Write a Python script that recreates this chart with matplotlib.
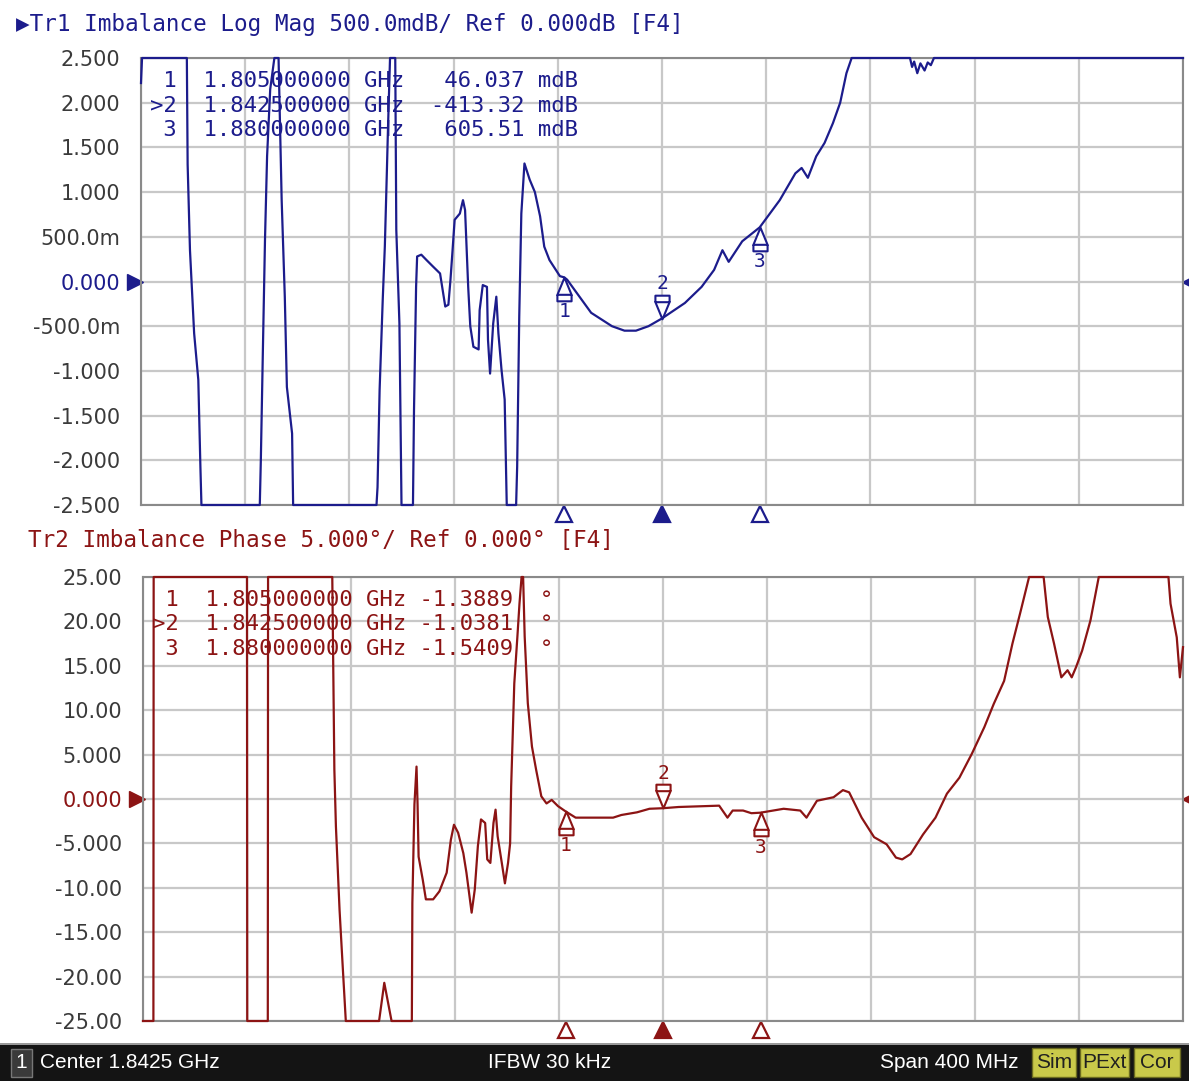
import matplotlib
matplotlib.use('Agg')
import matplotlib.pyplot as plt
import numpy as np
from matplotlib.transforms import offset_copy, blended_transform_factory
from matplotlib.patches import Rectangle
from matplotlib.path import Path

# sweep: center 1842.5 MHz, span 400 MHz
f_start, f_stop = 1642.5, 2042.5

# Tr1 imbalance log mag (dB) (clipped at +-2.5 like the VNA)
mag_freq = [1642.5, 1642.9, 1660.1, 1660.4, 1661.3, 1662.9, 1664.5, 1665.3, 1665.7, 1688.1,
            1688.5, 1689.3, 1690.1, 1690.9, 1692.1, 1693.7, 1695.3, 1696.5, 1697.7, 1698.5,
            1700.5, 1700.9, 1732.9, 1733.3, 1734.1, 1735.3, 1736.1, 1736.9, 1737.3, 1738.1,
            1740.1, 1740.5, 1741.7, 1742.5, 1746.9, 1747.3, 1748.1, 1748.5, 1750.1, 1752.1,
            1754.5, 1757.3, 1759.3, 1760.5, 1761.3, 1762.1, 1762.9, 1764.9, 1766.1, 1766.9,
            1768.1, 1768.9, 1770.1, 1772.1, 1772.5, 1773.7, 1775.3, 1775.7, 1776.5, 1777.7,
            1778.9, 1779.7, 1780.9, 1782.1, 1782.9, 1786.5, 1786.9, 1787.7, 1788.5, 1789.7,
            1791.7, 1793.7, 1795.7, 1797.3, 1799.3, 1803.3, 1805.0, 1806.1, 1815.3, 1823.3,
            1828.1, 1832.5, 1837.3, 1842.5, 1851.3, 1857.7, 1862.5, 1865.7, 1868.1, 1873.3,
            1880.0, 1887.7, 1893.7, 1896.1, 1898.5, 1901.7, 1904.9, 1908.1, 1910.9, 1913.3,
            1915.3, 1937.7, 1938.5, 1939.3, 1940.5, 1941.7, 1943.3, 1944.5, 1945.7, 1946.9,
            2042.5]
mag_db = [2.22, 2.5, 2.5, 1.31, 0.35, -0.58, -1.1, -2.07, -2.5, -2.5,
          -2.0, -0.75, 0.47, 1.4, 2.15, 2.5, 2.5, 0.91, -0.17, -1.18,
          -1.70, -2.5, -2.5, -2.3, -1.21, -0.2, 0.39, 1.25, 1.7, 2.5,
          2.5, 0.58, -0.47, -2.5, -2.5, -1.44, -0.06, 0.28, 0.30, 0.24,
          0.17, 0.09, -0.28, -0.26, 0.02, 0.35, 0.69, 0.76, 0.91, 0.80,
          -0.06, -0.50, -0.73, -0.76, -0.32, -0.04, -0.06, -0.65, -1.03, -0.47,
          -0.17, -0.58, -0.99, -1.32, -2.5, -2.5, -2.07, -0.39, 0.76, 1.32,
          1.14, 1.0, 0.73, 0.39, 0.24, 0.06, 0.046, 0.02, -0.35, -0.50,
          -0.55, -0.55, -0.50, -0.413, -0.24, -0.06, 0.13, 0.35, 0.22, 0.45,
          0.6055, 0.91, 1.21, 1.27, 1.16, 1.40, 1.55, 1.77, 2.0, 2.33,
          2.5, 2.5, 2.40, 2.46, 2.33, 2.44, 2.36, 2.45, 2.42, 2.5,
          2.5]

# Tr2 imbalance phase (deg), clipped at +-25
ph_freq = [1642.5, 1646.5, 1646.6, 1682.5, 1682.6, 1690.5, 1690.6, 1715.3, 1716.1, 1716.7,
           1718.1, 1719.3, 1720.5, 1733.3, 1735.3, 1738.1, 1745.9, 1746.1, 1746.9, 1747.7,
           1748.1, 1748.5, 1750.1, 1751.3, 1754.1, 1756.5, 1759.3, 1760.9, 1762.1, 1763.7,
           1765.7, 1766.9, 1768.9, 1770.1, 1771.3, 1772.5, 1774.1, 1774.9, 1776.1, 1777.3,
           1778.1, 1778.9, 1780.5, 1781.7, 1782.9, 1783.7, 1784.1, 1785.3, 1786.5, 1787.3,
           1788.1, 1788.7, 1789.3, 1790.5, 1792.1, 1793.7, 1795.7, 1797.7, 1799.7, 1802.1,
           1805.0, 1808.9, 1823.3, 1826.5, 1832.5, 1837.3, 1842.5, 1848.5, 1864.1, 1867.3,
           1869.3, 1873.3, 1876.5, 1880.0, 1888.9, 1895.3, 1897.7, 1901.7, 1908.1, 1911.7,
           1914.1, 1918.9, 1923.7, 1928.5, 1932.1, 1934.5, 1937.7, 1942.5, 1947.3, 1951.7,
           1956.5, 1961.3, 1966.1, 1969.7, 1973.7, 1976.9, 1980.1, 1983.3, 1988.9, 1990.5,
           1992.9, 1995.7, 1998.1, 1999.7, 2001.3, 2003.7, 2006.9, 2010.1, 2036.9, 2037.7,
           2040.1, 2041.3, 2042.5]
ph_deg = [-25, -25, 25, 25, -25, -25, 25, 25, 3.3, -3.1,
          -12.5, -18.8, -25, -25, -20.7, -25, -25, -11.7, -0.6, 3.65,
          -0.6, -6.5, -9.1, -11.3, -11.3, -10.4, -8.3, -4.6, -2.9, -3.8,
          -6.1, -8.3, -12.8, -10.2, -5.3, -2.3, -2.7, -6.8, -7.2, -2.7,
          -1.2, -4.2, -7.2, -9.5, -7.2, -5.0, 1.4, 13.0, 18.3, 22.0,
          25, 25, 18.3, 10.8, 5.9, 3.3, 0.3, -0.5, -0.1, -0.8,
          -1.389, -2.1, -2.1, -1.8, -1.5, -1.1, -1.038, -0.9, -0.75, -2.1,
          -1.3, -1.3, -1.6, -1.541, -1.1, -1.3, -2.1, -0.2, 0.2, 1.0,
          0.75, -2.1, -4.3, -5.1, -6.6, -6.8, -6.2, -4.0, -2.1, 0.6,
          2.4, 5.1, 8.1, 10.7, 13.3, 17.5, 21.2, 25, 25, 20.5,
          17.5, 13.7, 14.5, 13.7, 14.8, 16.7, 20.1, 25, 25, 22,
          18.2, 13.7, 17.1]

marker_freq = [1805.0, 1842.5, 1880.0]
marker_mag = [0.046037, -0.41332, 0.60551]
marker_phase = [-1.3889, -1.0381, -1.5409]
active_marker = 1

mag_ticks = [2.5, 2.0, 1.5, 1.0, 0.5, 0.0, -0.5, -1.0, -1.5, -2.0, -2.5]
mag_tick_labels = ['2.500', '2.000', '1.500', '1.000', '500.0m', '0.000', '-500.0m',
                   '-1.000', '-1.500', '-2.000', '-2.500']
ph_ticks = [25, 20, 15, 10, 5, 0, -5, -10, -15, -20, -25]
ph_tick_labels = ['25.00', '20.00', '15.00', '10.00', '5.000', '0.000', '-5.000',
                  '-10.00', '-15.00', '-20.00', '-25.00']

mag_table = [' 1  1.805000000 GHz   46.037 mdB',
             '>2  1.842500000 GHz  -413.32 mdB',
             ' 3  1.880000000 GHz   605.51 mdB']
ph_table = [' 1  1.805000000 GHz -1.3889  °',
            '>2  1.842500000 GHz -1.0381  °',
            ' 3  1.880000000 GHz -1.5409  °']

blue = '#1c1c8c'
red = '#8c1414'
mono = ['DejaVu Sans Mono', 'DejaVu Sans']

# tall marker glyph: triangle sitting on a small box, apex at (0, 1)
up_verts = [(0, 1), (-0.6, -0.45), (0.6, -0.45), (0, 1),
            (-0.6, -0.45), (-0.6, -1), (0.6, -1), (0.6, -0.45)]
up_codes = [Path.MOVETO, Path.LINETO, Path.LINETO, Path.CLOSEPOLY,
            Path.MOVETO, Path.LINETO, Path.LINETO, Path.LINETO]
up_mark = Path(up_verts, up_codes)
down_mark = Path([(x, -y) for x, y in up_verts], up_codes)
mk_size = 17  # points; glyph is mk_size tall
mk_half = mk_size / 2 * 100 / 72  # half height in pixels

W, H = 1189, 1081
fig = plt.figure(figsize=(W / 100, H / 100), dpi=100)
fig.patch.set_facecolor('white')


def px_axes(x0, y0, x1, y1):
    return fig.add_axes([x0 / W, 1 - y1 / H, (x1 - x0) / W, (y1 - y0) / H])


def draw_panel(ax, freq, vals, color, ticks, labels, mk_vals):
    ax.plot(freq, vals, color=color, lw=1.6, clip_on=False, zorder=3)
    ax.set_xlim(f_start, f_stop)
    ax.set_ylim(ticks[-1], ticks[0])
    ax.set_xticks(np.linspace(f_start, f_stop, 11))
    ax.set_xticklabels([])
    ax.set_yticks(ticks)
    ax.set_yticklabels(labels, fontsize=15, color='#3a3a3a')
    for t, v in zip(ax.get_yticklabels(), ticks):
        if v == 0:
            t.set_color(color)
    ax.tick_params(length=0, pad=15)
    ax.grid(True, color='#c8c8c8', lw=1.6)
    ax.set_axisbelow(True)
    for s in ax.spines.values():
        s.set_color('#8a8a8a')
        s.set_linewidth(1.5)

    # reference level arrows
    tr = blended_transform_factory(ax.transAxes, ax.transData)
    ax.plot([-0.006], [0], marker='>', ms=11, color=color, transform=tr, clip_on=False)
    ax.plot([1.0045], [0], marker='<', ms=9, color=color, transform=tr, clip_on=False)

    # marker position triangles under the grid
    trb = blended_transform_factory(ax.transData, ax.transAxes)
    for i, f in enumerate(marker_freq):
        fc = color if i == active_marker else 'white'
        ax.plot([f], [-0.021], marker='^', ms=11, mfc=fc, mec=color, mew=1.6,
                transform=trb, clip_on=False)

    # markers on the trace
    for i, (f, v) in enumerate(zip(marker_freq, mk_vals)):
        if i == active_marker:
            tr_m = offset_copy(ax.transData, fig=fig, y=mk_half, units='dots')
            ax.plot([f], [v], marker=down_mark, ms=mk_size, mfc='white', mec=color,
                    mew=1.5, transform=tr_m, zorder=4)
            dy = 2 * mk_half + 11
        else:
            tr_m = offset_copy(ax.transData, fig=fig, y=-mk_half, units='dots')
            ax.plot([f], [v], marker=up_mark, ms=mk_size, mfc='white', mec=color,
                    mew=1.5, transform=tr_m, zorder=4)
            dy = -(2 * mk_half + 11)
        ax.annotate(str(i + 1), xy=(f, v), xytext=(0, dy), textcoords='offset pixels',
                    ha='center', va='center', fontsize=14, color=color, family=mono)


ax1 = px_axes(141, 58, 1183, 505)
draw_panel(ax1, mag_freq, mag_db, blue, mag_ticks, mag_tick_labels, marker_mag)
ax2 = px_axes(143, 577, 1183, 1021)
draw_panel(ax2, ph_freq, ph_deg, red, ph_ticks, ph_tick_labels, marker_phase)

# trace titles
fig.text(16 / W, 1 - 24 / H, '▶Tr1 Imbalance Log Mag 500.0mdB/ Ref 0.000dB [F4]',
         color=blue, fontsize=16.3, family=mono, va='center', ha='left')
fig.text(28 / W, 1 - 541 / H, 'Tr2 Imbalance Phase 5.000°/ Ref 0.000° [F4]',
         color=red, fontsize=16.3, family=mono, va='center', ha='left')

# marker tables
for k, row in enumerate(mag_table):
    fig.text(150 / W, 1 - (81 + 24.5 * k) / H, row, color=blue, fontsize=16,
             family=mono, va='center', ha='left')
for k, row in enumerate(ph_table):
    fig.text(152 / W, 1 - (600 + 24.5 * k) / H, row, color=red, fontsize=16,
             family=mono, va='center', ha='left')

# status bar
bar_font = ['Liberation Sans', 'DejaVu Sans']
fig.patches.append(Rectangle((0, 0), 1, 36 / H, transform=fig.transFigure,
                             facecolor='#141414', edgecolor='none'))
fig.patches.append(Rectangle((0, 36 / H), 1, 2 / H, transform=fig.transFigure,
                             facecolor='#9a9a9a', edgecolor='none'))
fig.patches.append(Rectangle((11 / W, 4 / H), 21 / W, 28 / H, transform=fig.transFigure,
                             facecolor='#3a3a3a', edgecolor='#777777', lw=1))
fig.text(21 / W, 18 / H, '1', color='white', fontsize=15, family=bar_font,
         ha='center', va='center')
fig.text(40 / W, 18 / H, 'Center 1.8425 GHz', color='white', fontsize=15,
         family=bar_font, ha='left', va='center')
fig.text(550 / W, 18 / H, 'IFBW 30 kHz', color='white', fontsize=15,
         family=bar_font, ha='center', va='center')
fig.text(1018 / W, 18 / H, 'Span 400 MHz', color='white', fontsize=15,
         family=bar_font, ha='right', va='center')
for label, x0, x1 in [('Sim', 1032, 1076), ('PExt', 1080, 1129), ('Cor', 1134, 1180)]:
    fig.patches.append(Rectangle((x0 / W, 4 / H), (x1 - x0) / W, 29 / H,
                                 transform=fig.transFigure, facecolor='#c9c94a',
                                 edgecolor='#6a6a20', lw=1))
    fig.text((x0 + x1) / 2 / W, 18 / H, label, color='#202020', fontsize=15,
             family=bar_font, ha='center', va='center')

fig.savefig('out.png', dpi=100)
